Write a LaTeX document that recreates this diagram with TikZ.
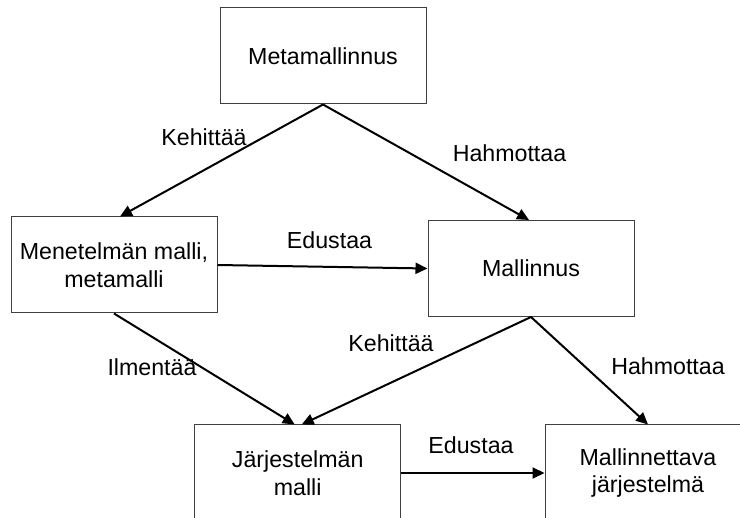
\documentclass[tikz,border=0pt]{standalone}
\usepackage{fontspec}
\setmainfont{Liberation Sans}
\usetikzlibrary{arrows.meta}

\begin{document}
\begin{tikzpicture}[x=1pt,y=-1pt,>={Triangle[length=12pt,width=11pt]},
  box/.style={draw=black!75,line width=1pt,minimum width=206pt,minimum height=96pt,
    inner sep=0pt,align=center,font=\fontsize{23.2}{27.5}\selectfont},
  lbl/.style={font=\fontsize{23.2}{27.5}\selectfont,inner sep=0pt},
  arr/.style={->,line width=2pt}]
\useasboundingbox (0,0) rectangle (740,518);
\clip (0,0) rectangle (740,518);
% boxes
\node[box] (meta) at (323,56) {Metamallinnus};
\node[box] (menet) at (114,265) {Menetelmän malli,\\metamalli};
\node[box] (mall) at (531,268.5) {Mallinnus};
\node[box] (jarj) at (297.7,473) {Järjestelmän\\malli};
\node[box] (kohde) at (648,473) {Mallinnettava\\järjestelmä};
% connectors
\draw[arr] (meta.south) -- ([xshift=6pt]menet.north);
\draw[arr] (meta.south) -- ([xshift=-2pt]mall.north);
\draw[arr] (menet.east) -- (mall.west);
\draw[arr] (menet.south) -- ([xshift=-3pt]jarj.north);
\draw[arr] (mall.south) -- ([xshift=4pt]jarj.north);
\draw[arr] (mall.south) -- (kohde.north);
\draw[arr] (jarj.east) -- (kohde.west);
% labels
\node[lbl] (kehittaa1) at (204,137) {Kehittää};
\node[lbl] (hahmottaa1) at (509.5,153) {Hahmottaa};
\node[lbl] (edustaa1) at (329.5,240) {Edustaa};
\node[lbl] (kehittaa2) at (391,343) {Kehittää};
\node[lbl] (ilmentaa) at (152,367) {Ilmentää};
\node[lbl] (hahmottaa2) at (668,366) {Hahmottaa};
\node[lbl] (edustaa2) at (471,445) {Edustaa};
\end{tikzpicture}
\end{document}
